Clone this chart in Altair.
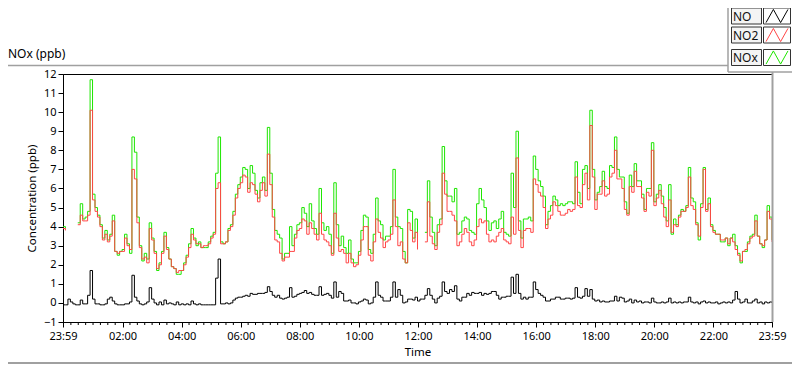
import altair as alt
import pandas as pd

# sampling grid: minutes elapsed since 23:59 (5-minute readings)
minutes = list(range(0, 1441, 5))

no_ppb = [
    -0.1, -0.1, 0.2, 0.05, -0.05, -0.1, -0.1, 0.15, -0.05, -0.05, 0.4, 1.7,
    0.2, -0.05, -0.05, -0.1, -0.1, -0.05, 0.2, 0.3, 0.1, -0.05, -0.1, -0.1,
    -0.1, -0.05, -0.05, 0.05, 1.45, 0.3, 0.1, -0.05, -0.1, -0.05, 0.05, 0.8,
    0.2, 0.0, -0.1, 0.05, -0.1, 0.15, -0.05, 0.0, -0.05, -0.1, 0.05, -0.1,
    -0.05, -0.1, -0.05, -0.1, 0.1, -0.05, -0.1, -0.05, -0.1, -0.1, -0.1, -0.1,
    -0.1, -0.1, 1.3, 2.3, -0.05, -0.05, 0.0, -0.05, 0.0, 0.15, 0.25, 0.3,
    0.3, 0.35, 0.4, 0.35, 0.5, 0.45, 0.45, 0.5, 0.5, 0.5, 0.55, 0.85,
    0.6, 0.4, 0.3, 0.4, 0.25, 0.2, 0.25, 0.3, 0.8, 0.3, 0.35, 0.45,
    0.5, 0.55, 0.65, 0.5, 0.55, 0.45, 0.4, 0.4, 0.85, 0.4, 0.45, 0.5,
    0.4, 0.25, 1.1, 0.3, 0.6, 0.5, 0.1, 0.1, 0.15, 0.0, 0.0, -0.05,
    0.05, 0.1, 0.2, 0.15, -0.05, 0.0, 0.3, 1.1, 0.4, 0.3, 0.1, 0.1,
    0.1, 0.3, 1.1, 0.3, 0.7, 0.4, 0.0, 0.05, 0.2, 0.2, 0.15, 0.3,
    0.1, 0.2, 0.2, 0.4, 0.75, 0.4, 0.2, 0.0, 0.25, 0.35, 1.1, 0.6,
    0.5, 0.7, 0.6, 0.9, 0.2, 0.1, 0.3, 0.3, 0.5, 0.4, 0.55, 0.5,
    0.5, 0.55, 0.4, 0.5, 0.45, 0.5, 0.6, 0.6, 0.4, 0.2, 0.3, 0.3,
    0.35, 0.35, 1.35, 0.5, 1.5, 0.5, 0.2, 0.3, 0.2, 0.3, 0.3, 1.1,
    0.7, 0.5, 0.4, 0.3, 0.1, 0.1, 0.2, 0.2, 0.3, 0.3, 0.2, 0.2,
    0.25, 0.25, 0.2, 0.25, 0.8, 0.3, 0.25, 0.35, 0.75, 0.35, 0.7, 0.2,
    0.1, 0.15, 0.05, 0.1, 0.05, 0.05, 0.1, 0.1, 0.35, 0.1, 0.3, 0.25,
    0.05, 0.1, 0.2, 0.0, 0.15, 0.05, 0.1, 0.0, 0.05, 0.05, 0.0, 0.25,
    0.05, 0.0, 0.0, 0.05, 0.0, 0.05, 0.25, 0.0, 0.05, 0.0, 0.05, 0.0,
    0.05, 0.05, 0.3, 0.05, 0.0, 0.05, -0.05, 0.05, 0.1, 0.0, 0.05, 0.0,
    0.0, 0.05, -0.05, 0.0, 0.05, 0.0, 0.05, 0.0, 0.15, 0.6, 0.2, 0.0,
    0.05, 0.2, 0.0, 0.0, 0.1, 0.2, 0.0, 0.05, -0.05, 0.05, 0.0, 0.05,
    0.0,
]

no2_ppb = [
    3.9, 3.8, None, 3.8, None, None, 4.1, 4.6, 4.3, 4.3, 4.6, 10.1,
    5.4, 4.8, 4.5, 4.0, 3.3, 3.6, 3.2, 3.5, 4.3, 2.7, 2.6, 2.7,
    2.7, 3.4, 3.0, 2.8, 7.0, 6.5, 4.2, 2.9, 2.3, 2.4, 2.1, 3.9,
    3.3, 2.6, 1.8, 2.0, 2.6, 3.5, 2.8, 2.3, 1.9, 1.8, 1.6, 1.7,
    1.7, 2.0, 2.4, 2.9, 3.6, 3.3, 3.1, 3.1, 2.9, 3.0, 3.0, 3.1,
    3.4, 3.6, 6.0, 6.3, 3.1, 3.1, 3.2, 3.8, 4.0, 4.6, 5.5, 6.0,
    6.3, 6.7, 6.6, 5.8, 6.3, 6.2, 5.7, 5.3, 5.9, 6.3, 5.6, 7.8,
    6.2, 4.5, 3.3, 3.2, 2.6, 2.2, 2.4, 2.4, 2.7, 2.7, 3.4, 3.8,
    3.9, 4.4, 4.3, 3.6, 4.2, 3.9, 3.6, 3.3, 4.7, 3.6, 3.3, 3.2,
    3.0, 2.5, 4.7, 3.4, 2.7, 2.8, 2.6, 2.1, 2.6, 2.1, 1.9, 2.0,
    2.5, 3.3, 4.0, 4.0, 2.5, 2.2, 3.2, 4.4, 3.7, 3.4, 2.9, 3.2,
    3.3, 3.6, 5.4, 4.0, 3.0, 3.2, 2.3, 2.1, 4.2, 3.8, 3.2, 3.7,
    2.8, None, None, 3.2, 5.3, 3.5, 3.1, 2.8, 3.7, 4.1, 6.8, 5.7,
    4.8, 4.8, 4.6, 4.3, 3.0, 3.2, 3.6, 3.9, 3.7, 3.2, 3.0, 3.3,
    4.0, 4.4, 4.2, 4.3, 3.6, 3.2, 3.3, 3.2, 3.5, 3.7, 3.9, 3.3,
    3.2, 3.1, 4.5, 3.6, 7.6, 3.8, 2.9, 3.8, 3.9, 3.9, 3.7, 6.5,
    6.2, 5.8, 5.6, 5.0, 3.9, 4.4, 4.6, 5.3, 5.1, 4.8, 4.6, 4.6,
    4.7, 4.9, 4.8, 4.9, 6.6, 5.1, 5.0, 6.2, 6.8, 5.4, 9.3, 6.6,
    4.9, 5.7, 5.7, 6.4, 5.6, 5.7, 6.6, 6.8, 8.0, 6.5, 6.5, 6.0,
    4.9, 4.6, 6.1, 5.8, 6.9, 6.1, 6.1, 5.5, 4.8, 5.8, 5.6, 8.0,
    5.1, 5.5, 5.9, 5.2, 4.5, 4.0, 5.4, 3.7, 4.1, 4.0, 4.5, 4.8,
    4.8, 5.0, 6.6, 5.1, 4.9, 4.1, 3.5, 5.0, 7.0, 4.8, 5.2, 4.0,
    3.7, 3.6, 3.6, 3.3, 3.3, 3.4, 3.1, 3.4, 3.2, 2.8, 2.5, 2.2,
    2.7, 2.8, 3.1, 3.4, 3.5, 4.3, 3.5, 3.1, 3.0, 3.3, 4.8, 4.4,
    3.2,
]

nox_ppb = [
    4.0, 3.9, None, 3.8, None, None, 4.2, 5.2, 4.4, 4.5, 4.8, 11.7,
    5.7, 5.0, 4.6, 4.1, 3.4, 3.8, 3.3, 3.6, 4.6, 2.7, 2.5, 2.7,
    2.8, 3.6, 3.1, 2.6, 8.7, 7.9, 4.5, 3.0, 2.2, 2.6, 2.3, 4.2,
    3.4, 2.7, 1.7, 2.1, 2.7, 3.7, 2.9, 2.3, 1.9, 1.8, 1.5, 1.5,
    1.7, 2.1, 2.5, 3.1, 3.9, 3.4, 3.0, 3.2, 2.9, 2.9, 2.9, 3.2,
    3.5, 3.7, 6.8, 8.7, 3.2, 3.1, 3.2, 3.9, 4.1, 4.8, 5.7, 6.2,
    6.6, 7.1, 7.0, 6.0, 7.2, 6.8, 5.9, 5.5, 6.3, 6.6, 5.9, 9.2,
    6.8, 4.9, 3.8, 3.6, 3.4, 2.3, 2.6, 2.6, 4.0, 3.0, 3.6, 4.1,
    4.2, 5.0, 4.7, 4.0, 5.2, 4.3, 3.9, 3.6, 6.0, 4.2, 3.8, 4.0,
    3.6, 2.6, 6.3, 4.1, 3.0, 3.5, 2.9, 2.6, 3.3, 2.3, 2.1, 2.1,
    2.7, 3.8, 4.6, 4.5, 2.8, 2.6, 3.6, 5.5, 4.3, 4.1, 3.3, 3.5,
    3.5, 4.0, 7.0, 4.5, 4.0, 3.9, 2.7, 2.1, 4.9, 4.8, 3.4, 4.4,
    2.9, None, None, 3.7, 6.4, 4.5, 3.7, 3.0, 4.1, 4.4, 8.2, 6.4,
    5.6, 5.6, 5.3, 6.0, 3.6, 3.7, 4.3, 4.5, 4.4, 3.8, 3.7, 3.6,
    5.2, 6.0, 5.4, 5.0, 4.3, 3.8, 4.2, 4.3, 3.9, 4.4, 4.8, 3.7,
    3.6, 3.5, 6.8, 5.0, 9.0, 4.3, 3.4, 4.4, 4.4, 4.5, 4.3, 7.7,
    7.0, 6.4, 6.1, 5.6, 4.1, 4.8, 5.1, 5.6, 5.4, 5.1, 5.2, 5.1,
    5.2, 5.3, 5.3, 5.2, 7.4, 5.8, 5.2, 7.0, 7.2, 6.0, 10.1, 7.0,
    5.4, 5.8, 6.1, 6.9, 6.1, 6.0, 7.2, 7.1, 8.7, 7.0, 6.6, 6.6,
    5.3, 4.7, 6.7, 6.1, 7.3, 6.4, 6.4, 5.7, 4.9, 6.0, 6.0, 8.4,
    5.3, 5.7, 6.2, 5.6, 5.0, 4.3, 6.2, 3.6, 4.4, 4.1, 4.6, 4.9,
    4.8, 5.1, 7.1, 5.5, 5.3, 4.2, 3.3, 5.2, 7.1, 4.9, 5.5, 4.1,
    3.8, 3.6, 3.6, 3.2, 3.2, 3.4, 3.0, 3.4, 3.6, 3.0, 2.6, 2.1,
    2.7, 2.7, 3.2, 3.5, 3.6, 4.6, 3.5, 3.1, 2.9, 3.3, 5.1, 4.5,
    3.3,
]

series_names = ["NO", "NO2", "NOx"]
series_colors = ["#000000", "#ff4646", "#1ee600"]

x_tick_minutes = [0, 121, 241, 361, 481, 601, 721, 841, 961, 1081, 1201, 1321, 1440]
x_tick_labels = ["23:59", "02:00", "04:00", "06:00", "08:00", "10:00", "12:00",
                 "14:00", "16:00", "18:00", "20:00", "22:00", "23:59"]
minor_tick_minutes = [c + 1 for c in range(15, 1440, 15) if c % 120 != 0]
y_ticks = list(range(-1, 13))

W, H = 709, 248
FONT = "Noto Sans"

label_expr = "".join(
    f"datum.value == {m} ? '{lab}' : " for m, lab in zip(x_tick_minutes, x_tick_labels)
) + "''"

x_scale = alt.Scale(domain=[0, 1440], nice=False, zero=False)
y_scale = alt.Scale(domain=[-1, 12], nice=False, zero=False)

x_axis = alt.Axis(values=x_tick_minutes, labelExpr=label_expr, title="Time",
                  tickSize=5, tickColor="black", domainColor="black",
                  labelColor="black", titleColor="black", labelFont=FONT,
                  titleFont=FONT, labelFontSize=11, titleFontSize=11.5,
                  titleFontWeight="normal", labelPadding=3, titlePadding=5,
                  labelFlush=False, labelOverlap=False, grid=False)
y_axis = alt.Axis(values=y_ticks, title="Concentration (ppb)", tickSize=5,
                  tickColor="black", domainColor="black", labelColor="black",
                  titleColor="black", labelFont=FONT, titleFont=FONT,
                  labelFontSize=11, titleFontSize=11.5, titleFontWeight="normal",
                  labelPadding=2, titlePadding=6, labelFlush=False, grid=False)


def series_layer(vals, color):
    df = pd.DataFrame({"t": minutes, "v": vals})
    return alt.Chart(df).mark_line(
        color=color, strokeWidth=1, interpolate="step-after",
        invalid="break-paths-show-domains"
    ).encode(
        x=alt.X("t:Q", scale=x_scale, axis=x_axis),
        y=alt.Y("v:Q", scale=y_scale, axis=y_axis),
    )


layers = [
    series_layer(no_ppb, series_colors[0]),
    series_layer(nox_ppb, series_colors[2]),
    series_layer(no2_ppb, series_colors[1]),
]

minor = alt.Chart(pd.DataFrame({"t": minor_tick_minutes})).mark_rule(
    color="black", strokeWidth=1
).encode(x=alt.X("t:Q", scale=x_scale, axis=x_axis),
         y=alt.value(H), y2=alt.value(H + 3))

one = pd.DataFrame({"k": [0]})
GRAY = "#a0a0a0"


def rule(x1, y1, x2, y2, color=GRAY, w=1.5):
    return alt.Chart(one).mark_rule(color=color, strokeWidth=w).encode(
        x=alt.value(x1), y=alt.value(y1), x2=alt.value(x2), y2=alt.value(y2))


LX = 665  # legend frame left edge (plot coordinates)

deco = [
    rule(-55, -8.5, LX, -8.5),              # frame top line
    rule(LX, -66, LX, -2),                  # legend frame left
    rule(LX, -2, 730, -2),                  # legend frame bottom
    rule(W + 0.5, -2, W + 0.5, H, w=2),     # right frame beside the plot
    rule(-55, 289, 730, 289, color="#808080"),  # bottom frame
]

title = alt.Chart(one).mark_text(
    text="NOx (ppb)", font=FONT, fontSize=12, align="left", baseline="alphabetic",
    color="black").encode(x=alt.value(-55), y=alt.value(-16))

row_tops = [-66, -47, -24.5]
legend_layers = []
for name, color, top in zip(series_names, series_colors, row_tops):
    legend_layers.append(alt.Chart(one).mark_rect(
        fill="#f4f4f4", stroke="#333333", strokeWidth=1).encode(
        x=alt.value(LX + 3.5), x2=alt.value(LX + 33.5), y=alt.value(top), y2=alt.value(top + 16)))
    legend_layers.append(alt.Chart(one).mark_rect(
        fill="white", stroke="#333333", strokeWidth=1).encode(
        x=alt.value(LX + 35.5), x2=alt.value(LX + 62.5), y=alt.value(top), y2=alt.value(top + 16)))
    legend_layers.append(alt.Chart(one).mark_text(
        text=name, font=FONT, fontSize=12, align="left", baseline="middle",
        color="#111111").encode(x=alt.value(LX + 5), y=alt.value(top + 8.5)))
    legend_layers.append(alt.Chart(one).mark_point(
        shape="M -1 0.6 L -0.33 -0.6 L 0.33 0.6 L 1 -0.6", filled=False,
        stroke=color, strokeWidth=1, opacity=1, size=480).encode(
        x=alt.value(LX + 49), y=alt.value(top + 8)))

chart = alt.layer(*layers, minor, *deco, title, *legend_layers).properties(
    width=W, height=H,
    autosize=alt.AutoSizeParams(type="none"),
    padding={"left": 55, "top": 66, "right": 20, "bottom": 43},
).configure_view(stroke="black", strokeWidth=1)

chart.save("out.html", embed_options={"renderer": "svg", "actions": False})
